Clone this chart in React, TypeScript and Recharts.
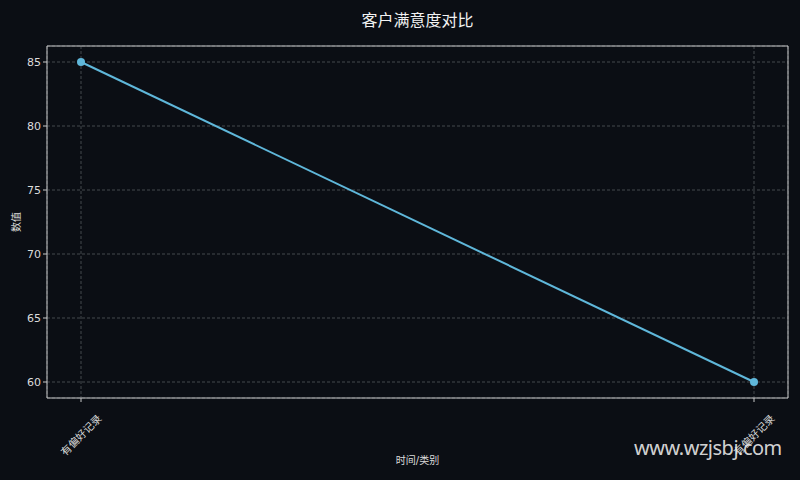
import React from "react";
import {
  LineChart,
  Line,
  XAxis,
  YAxis,
  CartesianGrid,
  Label,
} from "recharts";

// values
const categories = ["有偏好记录", "有偏好记录"];
const satisfaction = [85, 60];
const yTicks = [60, 65, 70, 75, 80, 85];
const yDomain = [58.75, 86.25];

const data = categories.map((name, i) => ({ name, value: satisfaction[i] }));

const FONT = "'DejaVu Sans', 'Noto Sans CJK SC', sans-serif";
const BG = "#0b0e14";
const FRAME = "#c8c8c8";
const TEXT = "#dcdcdc";
const LINE = "#5fb7da";

function RotatedTick(props: any) {
  const { x, y, payload } = props;
  return (
    <g transform={`translate(${x},${y + 31})`}>
      <text
        transform="rotate(-45)"
        textAnchor="middle"
        dominantBaseline="central"
        fill={TEXT}
        fontSize={10.5}
        fontFamily={FONT}
      >
        {payload.value}
      </text>
    </g>
  );
}

export default function App() {
  return (
    <div
      style={{
        position: "absolute",
        left: 0,
        top: 0,
        width: 800,
        height: 480,
        background: BG,
        fontFamily: FONT,
      }}
    >
      <div
        style={{
          position: "absolute",
          left: 47,
          width: 741,
          top: 7,
          textAlign: "center",
          color: "#f2f2f2",
          fontSize: 16,
          fontFamily: FONT,
        }}
      >
        客户满意度对比
      </div>
      <LineChart
        width={800}
        height={480}
        data={data}
        margin={{ top: 45, right: 11, bottom: 10, left: 7 }}
      >
        <CartesianGrid stroke="#45484d" strokeDasharray="3 2" />
        <XAxis
          dataKey="name"
          padding={{ left: 34, right: 34 }}
          height={72}
          tick={<RotatedTick />}
          tickLine={{ stroke: FRAME }}
          tickSize={4}
          axisLine={{ stroke: FRAME }}
          interval={0}
        >
          <Label
            value="时间/类别"
            position="insideBottom"
            offset={6}
            fill={TEXT}
            fontSize={10}
            fontFamily={FONT}
          />
        </XAxis>
        <XAxis
          xAxisId="top"
          dataKey="name"
          orientation="top"
          padding={{ left: 34, right: 34 }}
          height={1}
          tick={false}
          tickLine={false}
          axisLine={{ stroke: FRAME }}
        />
        <YAxis
          domain={yDomain}
          ticks={yTicks}
          width={40}
          tick={{ fill: TEXT, fontSize: 11, fontFamily: FONT }}
          tickLine={{ stroke: FRAME }}
          tickSize={4}
          axisLine={{ stroke: FRAME }}
        >
          <Label
            value="数值"
            angle={-90}
            position="insideLeft"
            offset={9}
            fill={TEXT}
            fontSize={10}
            fontFamily={FONT}
            style={{ textAnchor: "middle" }}
          />
        </YAxis>
        <YAxis
          yAxisId="right"
          orientation="right"
          domain={yDomain}
          width={1}
          tick={false}
          tickLine={false}
          axisLine={{ stroke: FRAME }}
        />
        <Line
          type="linear"
          dataKey="value"
          stroke={LINE}
          strokeWidth={2}
          dot={{ r: 4, fill: LINE, stroke: LINE, strokeWidth: 0 }}
          isAnimationActive={false}
        />
      </LineChart>
      <div
        style={{
          position: "absolute",
          left: 634,
          top: 434,
          color: "rgba(235,235,235,0.9)",
          fontSize: 20,
          fontFamily: "'Noto Sans', sans-serif",
          letterSpacing: -0.5,
        }}
      >
        www.wzjsbj.com
      </div>
    </div>
  );
}
